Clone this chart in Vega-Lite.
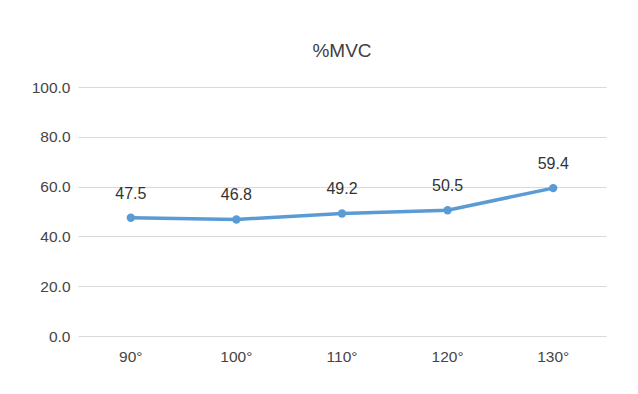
{
  "$schema": "https://vega.github.io/schema/vega-lite/v6.json",
  "autosize": {"type": "none"},
  "width": 528,
  "height": 249,
  "padding": {"left": 78, "top": 87, "right": 32, "bottom": 58},
  "background": "white",
  "title": {
    "text": "%MVC",
    "anchor": "middle",
    "frame": "group",
    "font": "Liberation Sans",
    "fontSize": 19,
    "fontWeight": "normal",
    "color": "#404040",
    "baseline": "middle",
    "offset": 10
  },
  "data": {
    "values": [
      {"angle": "90°", "mvc": 47.5},
      {"angle": "100°", "mvc": 46.8},
      {"angle": "110°", "mvc": 49.2},
      {"angle": "120°", "mvc": 50.5},
      {"angle": "130°", "mvc": 59.4}
    ]
  },
  "config": {
    "view": {"stroke": null},
    "font": "Liberation Sans",
    "axis": {
      "labelFont": "Liberation Sans",
      "labelFontSize": 15.5,
      "labelColor": "#454545",
      "title": null,
      "ticks": false,
      "gridColor": "#d9d9d9",
      "gridWidth": 1,
      "domain": false
    }
  },
  "layer": [
    {
      "mark": {"type": "line", "color": "#5B9BD5", "strokeWidth": 3.5},
      "encoding": {
        "x": {"field": "angle", "type": "ordinal", "sort": null,
              "scale": {"type": "band", "paddingInner": 0, "paddingOuter": 0},
              "axis": {"labelAngle": 0, "labelPadding": 13, "grid": false}},
        "y": {"field": "mvc", "type": "quantitative",
              "scale": {"domain": [0, 100]},
              "axis": {"values": [0, 20, 40, 60, 80, 100], "format": ".1f", "labelPadding": 8, "grid": true}}
      }
    },
    {
      "mark": {"type": "point", "filled": true, "opacity": 1, "color": "#5B9BD5", "size": 70},
      "encoding": {
        "x": {"field": "angle", "type": "ordinal", "sort": null},
        "y": {"field": "mvc", "type": "quantitative"}
      }
    },
    {
      "mark": {"type": "text", "dy": -24, "fontSize": 16, "color": "#333333", "font": "Liberation Sans"},
      "encoding": {
        "x": {"field": "angle", "type": "ordinal", "sort": null},
        "y": {"field": "mvc", "type": "quantitative"},
        "text": {"field": "mvc", "type": "quantitative", "format": ".1f"}
      }
    }
  ]
}
